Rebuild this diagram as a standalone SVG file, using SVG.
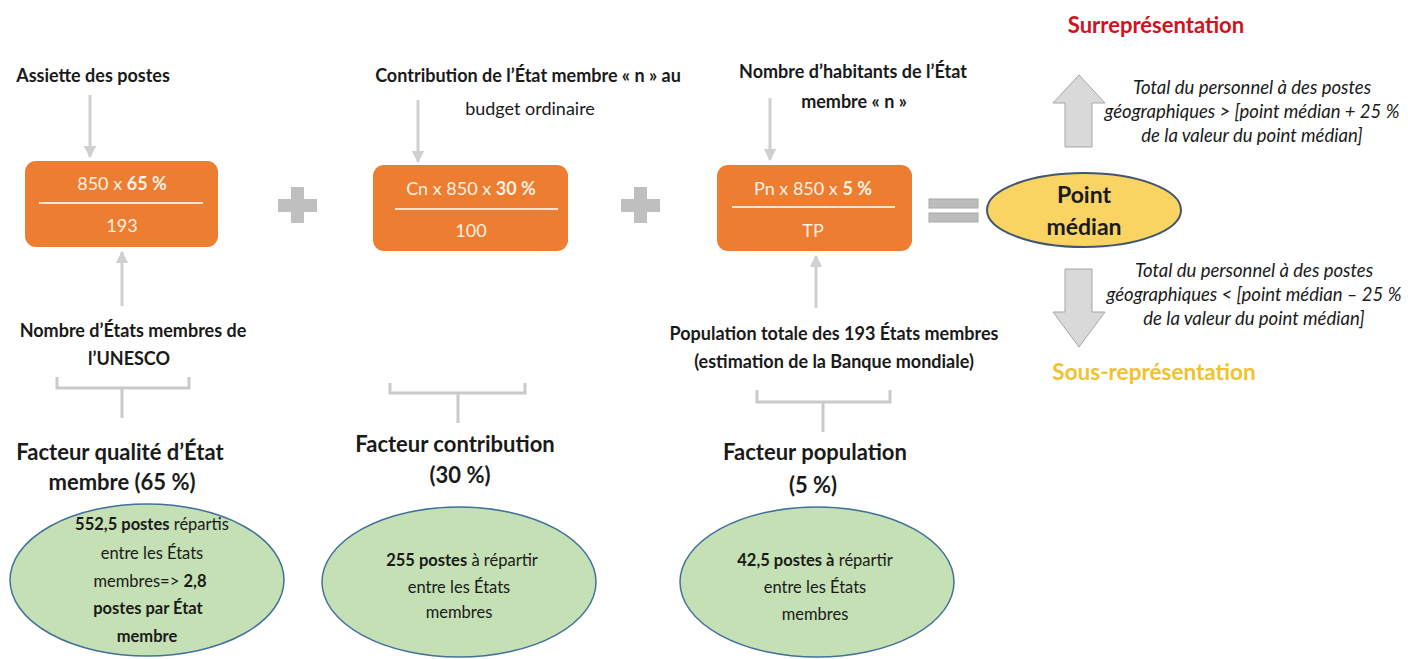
<svg xmlns="http://www.w3.org/2000/svg" width="1408" height="659" viewBox="0 0 1408 659">
<defs>
<style>
text{font-family:Lato,"Liberation Sans",sans-serif;fill:#1a1a1a}
.b{font-weight:700}
.r{font-weight:400}
.lbl{font-size:18px;font-weight:700;text-anchor:middle}
.lblr{font-size:18px;font-weight:400;text-anchor:middle}
.fac{font-size:22px;font-weight:700;text-anchor:middle}
.box{fill:#ED7D31}
.btx{font-size:18px;fill:#FFF1E3;text-anchor:middle}
.div{stroke:#FCE4D2;stroke-width:2}
.ell{fill:#C5E0B4;stroke:#41719C;stroke-width:1.5}
.etx{font-size:16.5px;text-anchor:middle}
.it{font-size:18.5px;font-style:italic;text-anchor:middle}
.con{stroke:#D0D0D0;stroke-width:3;fill:none}
.brk{stroke:#CACACA;stroke-width:3;fill:none}
.op{fill:#BFBFBF}
.big{fill:#D9D9D9;stroke:#A6A6A6;stroke-width:1}
</style>
<marker id="ah" viewBox="0 0 10 10" refX="9" refY="5" markerWidth="4.2" markerHeight="4.2" orient="auto" markerUnits="strokeWidth">
<path d="M0,0 L10,5 L0,10 Z" fill="#D0D0D0"/>
</marker>
</defs>
<rect width="1408" height="659" fill="#ffffff"/>

<g id="connectors">
<line class="con" x1="90" y1="95" x2="90" y2="157" marker-end="url(#ah)"/>
<line class="con" x1="418" y1="100" x2="418" y2="162" marker-end="url(#ah)"/>
<line class="con" x1="770" y1="98" x2="770" y2="160" marker-end="url(#ah)"/>
<line class="con" x1="122" y1="306" x2="122" y2="252" marker-end="url(#ah)"/>
<line class="con" x1="816" y1="308" x2="816" y2="256" marker-end="url(#ah)"/>
<path class="brk" d="M57,377 V388 H189 V377 M122,388 V418"/>
<path class="brk" d="M390,383 V393 H525 V383 M458,393 V423"/>
<path class="brk" d="M757,390 V402 H890 V390 M823,402 V432"/>
</g>

<g id="label-assiette"><text class="lbl" x="93" y="82">Assiette des postes</text></g>
<g id="label-contribution">
<text class="lbl" x="528" y="82">Contribution de l’État membre « n » au</text>
<text class="lblr" x="530" y="115">budget ordinaire</text>
</g>
<g id="label-habitants">
<text class="lbl" x="853" y="78">Nombre d’habitants de l’État</text>
<text class="lbl" x="854" y="108">membre « n »</text>
</g>

<g id="box1">
<rect class="box" x="25" y="161" width="193" height="86" rx="11"/>
<line class="div" x1="39" y1="203" x2="203" y2="203"/>
<text class="btx" x="122" y="190"><tspan class="r">850 x </tspan><tspan class="b">65 %</tspan></text>
<text class="btx" x="122" y="232">193</text>
</g>
<g id="box2">
<rect class="box" x="373" y="165" width="195" height="86" rx="11"/>
<line class="div" x1="395" y1="209" x2="558" y2="209"/>
<text class="btx" x="471" y="195"><tspan class="r">Cn x 850 x </tspan><tspan class="b">30 %</tspan></text>
<text class="btx" x="471" y="237">100</text>
</g>
<g id="box3">
<rect class="box" x="717" y="165" width="195" height="86" rx="11"/>
<line class="div" x1="732" y1="207" x2="895" y2="207"/>
<text class="btx" x="813" y="195"><tspan class="r">Pn x 850 x </tspan><tspan class="b">5 %</tspan></text>
<text class="btx" x="813" y="237">TP</text>
</g>

<g id="plus1"><rect class="op" x="278" y="199" width="39" height="13"/><rect class="op" x="291" y="187" width="13" height="36"/></g>
<g id="plus2"><rect class="op" x="621" y="199" width="39" height="13"/><rect class="op" x="634" y="187" width="13" height="36"/></g>
<g id="equals">
<rect x="929" y="199" width="49" height="9" fill="#BDBDBD" stroke="#A8A8A8" stroke-width="1"/>
<rect x="929" y="213" width="49" height="9" fill="#BDBDBD" stroke="#A8A8A8" stroke-width="1"/>
</g>

<g id="point-median">
<ellipse cx="1084" cy="210" rx="97" ry="37" fill="#F9D463" stroke="#3F5670" stroke-width="2"/>
<text class="b" x="1084" y="203" font-size="23" text-anchor="middle">Point</text>
<text class="b" x="1084" y="235" font-size="23" text-anchor="middle">médian</text>
</g>

<g id="surrep">
<text x="1156" y="33" font-size="22" font-weight="700" text-anchor="middle" style="fill:#D0121B">Surreprésentation</text>
</g>
<g id="arrow-up">
<path class="big" d="M1079,75 L1105,103 L1092,103 L1092,147 L1065,147 L1065,103 L1053,103 Z"/>
</g>
<g id="text-up">
<text class="it" x="1252" y="94">Total du personnel à des postes</text>
<text class="it" x="1252" y="118">géographiques &gt; [point médian + 25 %</text>
<text class="it" x="1252" y="142">de la valeur du point médian]</text>
</g>
<g id="arrow-down">
<path class="big" d="M1065,269 L1092,269 L1092,312 L1105,312 L1079,347 L1053,312 L1065,312 Z"/>
</g>
<g id="text-down">
<text class="it" x="1254" y="277">Total du personnel à des postes</text>
<text class="it" x="1254" y="301">géographiques &lt; [point médian – 25 %</text>
<text class="it" x="1254" y="325">de la valeur du point médian]</text>
</g>
<g id="sousrep">
<text x="1154" y="380" font-size="22.5" font-weight="700" text-anchor="middle" style="fill:#F2C12E">Sous-représentation</text>
</g>

<g id="label-unesco">
<text class="lbl" x="133" y="337">Nombre d’États membres de</text>
<text class="lbl" x="129" y="365">l’UNESCO</text>
</g>
<g id="label-population">
<text class="lbl" x="834" y="340">Population totale des 193 États membres</text>
<text class="lbl" x="834" y="368">(estimation de la Banque mondiale)</text>
</g>

<g id="facteur-qualite">
<text class="fac" x="120" y="460">Facteur qualité d’État</text>
<text class="fac" x="122" y="490">membre (65 %)</text>
</g>
<g id="facteur-contribution">
<text class="fac" x="455" y="452">Facteur contribution</text>
<text class="fac" x="460" y="483">(30 %)</text>
</g>
<g id="facteur-population">
<text class="fac" x="815" y="460">Facteur population</text>
<text class="fac" x="813" y="493">(5 %)</text>
</g>

<g id="ellipse1">
<ellipse class="ell" cx="147" cy="580" rx="137" ry="76"/>
<text class="etx" x="152" y="530"><tspan class="b">552,5 postes</tspan><tspan class="r"> répartis</tspan></text>
<text class="etx r" x="152" y="559">entre les États</text>
<text class="etx" x="150" y="587"><tspan class="r">membres=&gt;  </tspan><tspan class="b">2,8</tspan></text>
<text class="etx b" x="148" y="614">postes par État</text>
<text class="etx b" x="147" y="642">membre</text>
</g>
<g id="ellipse2">
<ellipse class="ell" cx="459" cy="582" rx="137" ry="75"/>
<text class="etx" x="462" y="566"><tspan class="b">255 postes</tspan><tspan class="r"> à répartir</tspan></text>
<text class="etx r" x="459" y="593">entre les États</text>
<text class="etx r" x="459" y="618">membres</text>
</g>
<g id="ellipse3">
<ellipse class="ell" cx="817" cy="582" rx="137" ry="75"/>
<text class="etx" x="815" y="566"><tspan class="b">42,5 postes à</tspan><tspan class="r"> répartir</tspan></text>
<text class="etx r" x="815" y="593">entre les États</text>
<text class="etx r" x="815" y="620">membres</text>
</g>
</svg>
